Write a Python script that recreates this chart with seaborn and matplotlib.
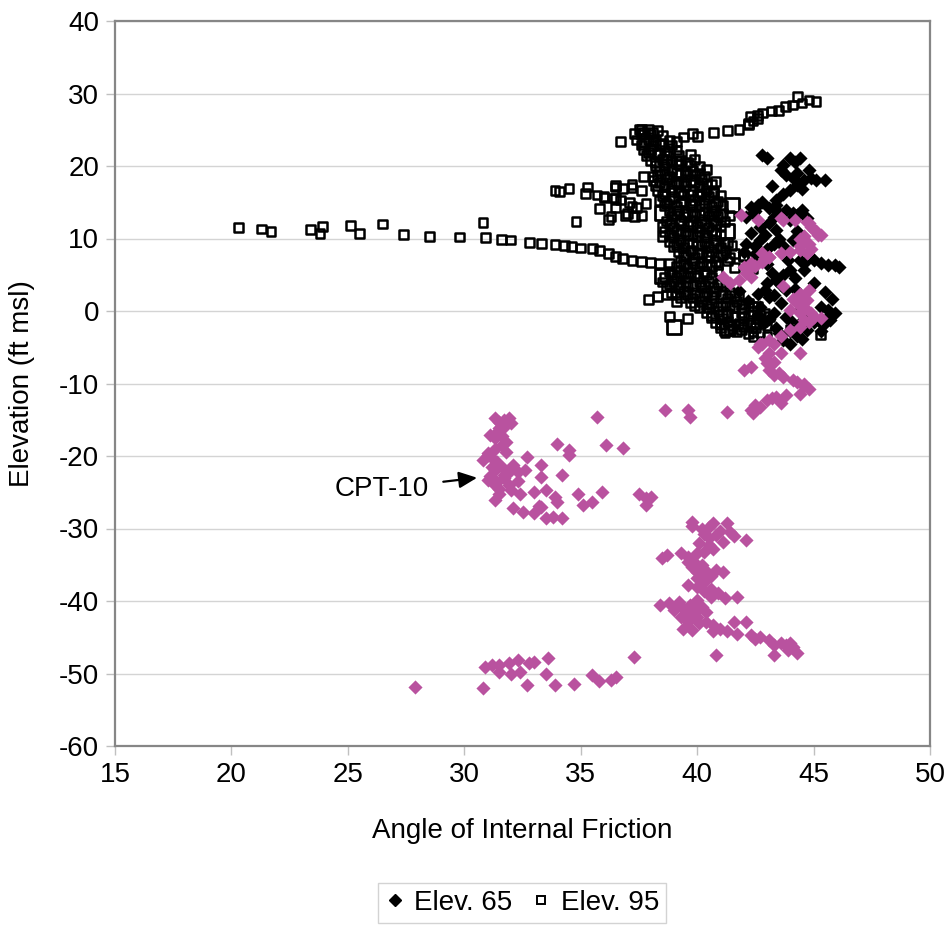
import matplotlib
matplotlib.use("Agg")
import matplotlib.pyplot as plt
from matplotlib.lines import Line2D
import seaborn as sns
import pandas as pd

# ---- Elev. 95 (open squares) ----
sq_x = [
    # western tail near elevation 10
    20.3, 21.3, 21.7, 23.4, 23.8, 23.9, 25.1, 25.5, 26.5, 27.4, 28.5, 29.8, 30.8, 30.9,
    31.6, 32.0, 32.8, 33.3, 33.9, 34.3, 34.6, 35.0, 35.5, 35.8, 36.2, 36.5, 36.8, 37.2,
    37.6, 38.0, 38.4, 38.8,
    # middle branch near elevation 16
    33.9, 34.1, 34.5, 35.3, 35.2, 35.7, 36.0, 36.4, 35.8, 36.2, 34.8, 36.5, 36.5,
    36.8, 37.2, 37.6, 36.7, 37.1, 37.4, 37.0, 37.6, 36.0, 36.5, 36.3, 36.9, 37.2,
    37.3, 37.7, 38.1, 36.5, 37.2, 37.8,
    # upper branch rising to elevation 29
    36.7, 37.3, 37.6, 39.1, 39.4, 39.8, 40.0, 40.7, 41.3, 41.8, 42.2, 42.3, 42.6, 42.8,
    43.2, 43.5, 43.8, 44.1, 44.3, 44.5, 44.8, 45.1, 42.4, 42.6, 42.2,
    # main column
    37.5, 37.9, 38.3,
    37.6, 38.0, 38.5,
    37.4, 37.9, 38.2, 38.8,
    37.6, 38.1, 38.4, 38.9,
    37.7, 38.0, 38.6, 39.1,
    37.8, 38.3, 38.7, 39.2, 39.7,
    38.0, 38.5, 38.9, 39.3, 39.9,
    38.2, 38.6, 39.2, 39.7, 40.1,
    38.4, 38.9, 39.5, 39.8, 40.4,
    38.3, 38.8, 39.3, 39.9, 40.3,
    38.1, 38.7, 39.1, 39.7, 40.2, 40.8,
    38.2, 38.6, 39.2, 39.5, 40.1, 40.6,
    38.3, 38.9, 39.3, 39.8, 40.4, 40.7,
    38.5, 39.0, 39.4, 40.0, 40.5, 41.0,
    38.4, 38.8, 39.4, 39.9, 40.3, 40.9,
    38.6, 39.1, 39.7, 40.1, 40.6, 41.1,
    38.8, 39.2, 39.8, 40.3, 40.8,
    38.9, 39.4, 39.9, 40.5, 40.9, 41.4,
    38.7, 39.3, 39.7, 40.2, 40.7, 41.2,
    38.5, 39.0, 39.6, 40.0, 40.5, 41.0,
    38.6, 39.1, 39.5, 40.1, 40.6,
    38.5, 39.0, 39.6, 40.0, 40.4, 41.0,
    38.8, 39.3, 39.8, 40.3, 40.8, 41.3,
    39.0, 39.4, 40.0, 40.5, 41.0, 41.5,
    39.2, 39.7, 40.2, 40.6, 41.2,
    39.4, 39.9, 40.4, 40.9, 41.4, 42.0,
    39.3, 39.8, 40.2, 40.8, 41.3, 42.4,
    39.1, 39.6, 40.1, 40.6, 41.6,
    38.8, 39.3, 39.7, 40.3, 40.9,
    38.6, 39.1, 39.6, 40.0, 40.6,
    38.5, 39.0, 39.5, 40.1, 40.5, 41.0,
    38.7, 39.2, 39.6, 40.2, 40.7, 41.2,
    38.9, 39.4, 39.9, 40.4, 40.8, 41.4,
    39.3, 39.8, 40.3, 40.7, 41.3, 41.8,
    39.7, 40.2, 40.6, 41.2, 41.7, 42.2,
    40.1, 40.5, 41.1, 41.6, 42.0, 42.6,
    40.4, 40.9, 41.3, 41.9, 42.4, 42.9,
    40.6, 41.1, 41.6, 42.0, 42.6, 43.1,
    40.8, 41.3, 41.8, 42.3, 42.8,
    41.0, 41.5, 42.0, 42.5,
    41.2, 41.7, 42.2, 42.7,
    # in-between readings of the column
    37.7, 38.1,
    37.7, 38.1, 38.5,
    37.9, 38.4, 38.8,
    38.2, 38.7, 39.1, 39.6,
    38.6, 39.1, 39.6, 40.1,
    38.4, 38.9, 39.4, 39.9, 40.4,
    38.6, 39.2, 39.7, 40.2, 40.7,
    38.7, 39.3, 39.8, 40.3, 40.8,
    39.1, 39.6, 40.1, 40.6, 41.1,
    38.8, 39.3, 39.8, 40.3, 40.8,
    38.8, 39.3, 39.8, 40.3, 40.8,
    39.1, 39.6, 40.2, 40.7, 41.2,
    39.5, 40.0, 40.5, 41.1, 41.6,
    39.4, 39.9, 40.4, 40.9,
    38.9, 39.4, 39.9, 40.4,
    38.8, 39.3, 39.8, 40.3, 40.9,
    39.1, 39.6, 40.1, 40.6, 41.1, 41.6,
    39.9, 40.4, 40.9, 41.4, 41.9, 42.4,
    40.6, 41.1, 41.6, 42.2, 42.7,
    41.0, 41.5, 42.0, 42.5, 43.0,
    41.4, 41.9, 42.4,
    # lower branches
    37.9, 38.3, 38.7, 38.8, 39.6, 39.1, 42.0, 42.7, 42.4, 44.0, 45.3, 43.0, 42.4, 44.6,
]
sq_y = [
    11.5, 11.3, 11.0, 11.2, 10.7, 11.7, 11.8, 10.7, 12.0, 10.5, 10.3, 10.2, 12.2, 10.1,
    9.9, 9.8, 9.5, 9.3, 9.2, 9.0, 8.9, 8.7, 8.6, 8.3, 7.9, 7.5, 7.2, 7.0,
    6.8, 6.7, 6.6, 6.6,
    16.6, 16.5, 16.9, 17.1, 16.2, 16.0, 15.7, 15.6, 14.1, 12.6, 12.3, 17.3, 15.5,
    16.9, 17.0, 16.6, 15.3, 15.0, 14.3, 13.5, 13.2, 15.8, 14.2, 13.0, 13.2, 14.4,
    13.0, 18.5, 18.5, 17.1, 17.4, 14.8,
    23.4, 24.5, 25.0, 23.4, 24.0, 24.5, 24.1, 24.6, 24.9, 25.0, 25.7, 26.8, 27.0, 27.3,
    27.6, 27.7, 28.2, 28.4, 29.6, 28.7, 29.1, 28.9, 26.2, 26.5, 25.9,
    25.0, 25.1, 24.9,
    24.3, 24.4, 24.2,
    23.6, 23.7, 23.5, 23.6,
    22.9, 22.8, 23.0, 22.9,
    22.2, 22.3, 22.1, 22.2,
    21.5, 21.6, 21.4, 21.5, 21.6,
    20.8, 20.9, 20.7, 20.8, 20.9,
    20.1, 20.0, 20.2, 20.1, 20.0,
    19.4, 19.5, 19.3, 19.4, 19.5,
    18.7, 18.6, 18.8, 18.7, 18.6,
    18.0, 18.1, 17.9, 18.0, 18.1, 17.9,
    17.3, 17.2, 17.4, 17.3, 17.2, 17.4,
    16.6, 16.7, 16.5, 16.6, 16.7, 16.5,
    15.9, 15.8, 16.0, 15.9, 15.8, 16.0,
    15.2, 15.3, 15.1, 15.2, 15.3, 15.1,
    14.5, 14.4, 14.6, 14.5, 14.4, 14.6,
    13.8, 13.9, 13.7, 13.8, 13.9,
    13.1, 13.0, 13.2, 13.1, 13.0, 13.2,
    12.4, 12.5, 12.3, 12.4, 12.5, 12.3,
    11.7, 11.6, 11.8, 11.7, 11.6, 11.8,
    11.0, 11.1, 10.9, 11.0, 11.1,
    10.3, 10.2, 10.4, 10.3, 10.2, 10.4,
    9.6, 9.7, 9.5, 9.6, 9.7, 9.5,
    8.9, 8.8, 9.0, 8.9, 8.8, 9.0,
    8.2, 8.3, 8.1, 8.2, 8.3,
    7.5, 7.4, 7.6, 7.5, 7.4, 7.6,
    6.8, 6.9, 6.7, 6.8, 6.9, 6.6,
    6.1, 6.0, 6.2, 6.1, 6.0,
    5.4, 5.5, 5.3, 5.4, 5.5,
    4.7, 4.6, 4.8, 4.7, 4.6,
    4.0, 4.1, 3.9, 4.0, 4.1, 3.9,
    3.3, 3.2, 3.4, 3.3, 3.2, 3.4,
    2.6, 2.7, 2.5, 2.6, 2.7, 2.5,
    1.9, 1.8, 2.0, 1.9, 1.8, 2.0,
    1.2, 1.3, 1.1, 1.2, 1.3, 1.1,
    0.5, 0.4, 0.6, 0.5, 0.4, 0.6,
    -0.2, -0.1, -0.3, -0.2, -0.1, -0.3,
    -0.9, -1.0, -0.8, -0.9, -1.0, -0.8,
    -1.6, -1.5, -1.7, -1.6, -1.5,
    -2.3, -2.4, -2.2, -2.3,
    -3.0, -2.9, -3.1, -3.0,
    24.7, 24.6,
    23.2, 23.3, 23.1,
    21.9, 21.8, 22.0,
    20.5, 20.4, 20.6, 20.5,
    19.0, 19.1, 18.9, 19.0,
    17.7, 17.6, 17.8, 17.7, 17.6,
    16.2, 16.3, 16.1, 16.2, 16.3,
    14.8, 14.9, 14.7, 14.8, 14.9,
    13.4, 13.5, 13.3, 13.4, 13.5,
    12.0, 12.1, 11.9, 12.0, 12.1,
    10.6, 10.7, 10.5, 10.6, 10.7,
    9.2, 9.3, 9.1, 9.2, 9.3,
    7.8, 7.9, 7.7, 7.8, 7.9,
    6.4, 6.5, 6.3, 6.4,
    5.0, 5.1, 4.9, 5.0,
    3.6, 3.7, 3.5, 3.6, 3.7,
    2.2, 2.3, 2.1, 2.2, 2.3, 2.1,
    0.8, 0.9, 0.7, 0.8, 0.9, 0.7,
    -0.6, -0.5, -0.7, -0.6, -0.5,
    -1.9, -2.0, -1.8, -1.9, -2.0,
    -2.7, -2.6, -2.8,
    1.6, 2.0, 2.2, -0.8, -1.0, 1.3, 7.5, 7.0, 5.9, -2.5, -3.3, -3.5, -3.5, -1.8,
]
# a few Elev. 95 readings plotted with a larger marker
big_x = [38.5, 41.5, 38.5, 41.3, 41.3, 39.0]
big_y = [13.5, 14.6, 4.8, -2.3, 11.0, -2.2]

# ---- Elev. 65 (filled black diamonds) ----
d65_x = [
    42.8, 43.0, 43.7, 44.0, 44.4, 44.2, 43.6, 43.8, 44.1, 44.3, 44.6, 44.9, 45.1, 45.5,
    44.3, 44.0, 43.7, 43.4, 42.8, 42.6, 42.3, 43.1, 43.4, 43.8, 44.1,
    42.1, 42.4, 42.7, 43.1, 43.4, 44.0, 44.3, 42.3, 42.7, 43.3, 43.7, 44.1, 42.1,
    43.9, 44.4, 45.0, 45.3, 45.6, 45.9, 46.1, 44.0, 44.6, 43.4, 43.8, 43.0, 42.6,
    43.1, 43.6, 42.7, 43.3, 43.8, 44.4, 45.3, 45.6, 45.9, 45.7, 45.4, 44.4, 44.7,
    44.3, 43.7, 44.0,
    42.0, 42.5, 43.0, 42.2, 41.8, 42.2, 42.9, 43.4, 44.9, 45.3, 44.0, 43.6, 44.2,
    45.0, 45.5, 45.8, 44.7, 43.3,
    42.5, 43.4, 44.5, 42.9, 43.5, 44.3, 42.5, 43.0, 44.6, 43.2, 43.7, 42.9, 43.3,
    44.2, 42.6, 43.1, 45.0, 43.5, 44.0, 44.5, 45.6, 44.8, 44.5, 43.2,
]
d65_y = [
    21.5, 21.1, 20.1, 21.1, 21.1, 20.6, 19.5, 18.8, 18.3, 19.0, 18.1, 18.3, 18.1, 18.1,
    17.4, 16.7, 16.2, 15.3, 15.1, 14.6, 14.4, 14.2, 13.9, 13.9, 13.5,
    13.0, 13.5, 11.6, 12.1, 11.2, 12.6, 13.2, 10.7, 9.8, 9.3, 8.9, 9.8, 9.3,
    7.0, 7.0, 7.0, 6.6, 6.3, 6.3, 6.1, 5.7, 5.7, 4.3, 2.9, 3.8, 2.4,
    2.0, 1.1, 0.6, -0.3, -0.8, 0.1, 0.6, 0.1, -0.3, -1.2, -1.9, -1.7, -2.6,
    -3.5, -4.0, -4.5,
    8.2, 7.8, 6.5, 5.8, 2.8, 1.4, -1.5, -2.3, -0.4, -2.7, -1.3, 3.6, 4.6,
    3.9, 2.6, 1.6, 12.8, 12.9,
    13.8, 14.6, 14.0, 10.5, 10.0, 11.0, 9.0, 8.5, 6.6, 5.2, 5.0, 2.9, 2.2,
    3.0, -0.6, -1.1, -1.5, -3.0, -2.8, -3.8, -0.8, 19.5, 16.8, 17.2,
]

# ---- CPT-10 (magenta diamonds) ----
cpt_x = [
    # upper trace
    41.9, 42.6, 43.6, 44.2, 44.8, 45.0, 45.2, 44.6, 44.8, 44.4, 44.7, 42.8, 43.1, 43.6,
    44.0, 43.7, 44.7, 45.3, 44.4, 44.4, 43.1, 42.8, 42.3, 42.0, 42.1, 42.3, 41.8, 41.4,
    41.1, 43.7, 44.4, 44.8, 44.7, 44.3, 44.0, 44.4, 45.0, 45.3, 44.8, 44.4, 44.0, 43.6,
    43.1, 42.7, 42.6,
    42.8, 43.1, 43.6, 44.4, 43.0, 43.1, 42.0, 42.3, 43.3, 43.7, 44.1, 44.6, 44.8, 44.4,
    43.8, 43.4, 43.0, 43.6, 42.7, 42.3, 42.4, 41.3,
    44.9, 45.1, 44.5, 44.9, 42.9, 42.5, 42.2, 44.1, 44.6, 44.9, 44.6, 43.3, 42.9, 43.3,
    43.5, 44.3, 44.6, 43.2, 42.5,
    # middle cluster
    31.3, 31.9, 31.7, 32.0, 31.4, 31.1, 31.6, 31.8, 31.8, 31.0, 31.2, 30.8, 31.4, 31.3,
    31.7, 31.0, 31.3, 31.5, 31.9, 32.1, 32.3, 32.6, 32.7, 33.3, 33.3, 34.0, 34.5, 34.5,
    34.2, 33.5, 33.9, 34.0, 34.9, 35.1, 35.5, 35.9, 36.1, 36.8, 35.7, 38.6, 39.6, 39.7,
    37.5, 37.8, 38.0, 37.8, 31.3, 32.1, 32.5, 33.0, 33.3, 33.5, 33.8, 34.2,
    31.5, 31.7, 31.5, 31.3, 31.6, 31.3, 31.0, 31.4, 31.2, 31.7, 31.1, 31.4, 31.7, 31.9,
    32.3, 32.0, 32.4, 33.0, 33.2, 31.5,
    # lower cluster
    39.8, 40.2, 40.7, 41.3, 40.3, 40.8, 41.1, 41.6, 42.1, 40.7, 40.3, 40.0, 39.3, 38.7,
    38.5, 39.6, 39.8, 40.0, 40.8, 41.1, 40.3, 40.2, 39.6, 40.6, 40.9, 40.6, 41.2, 41.7,
    40.0, 38.4, 38.8, 39.2, 39.0, 39.4, 39.7, 40.4, 39.3, 40.0, 40.4, 40.7, 39.4, 39.8,
    40.7, 41.3, 41.6, 42.1, 41.7, 42.3, 42.7, 43.1, 43.6, 43.8, 44.1, 44.3, 43.9, 43.3,
    40.8, 37.3,
    39.8, 40.5, 41.0, 40.5, 41.4, 40.1, 40.5, 39.6, 39.9, 40.2, 40.4, 40.0, 40.4, 40.6,
    40.0, 40.3, 39.7, 40.2, 40.0, 39.6, 40.1, 41.0, 42.5, 43.3, 44.0,
    # bottom cluster
    30.9, 31.2, 31.5, 31.5, 31.9, 32.3, 32.8, 33.0, 33.6, 32.0, 32.4, 33.5, 32.7, 33.9,
    34.7, 35.5, 35.8, 36.3, 36.5, 30.8, 27.9,
]
cpt_y = [
    13.2, 12.6, 12.8, 12.6, 12.1, 11.2, 10.5, 10.3, 9.3, 8.9, 8.0, 8.0, 7.5, 8.0,
    8.2, 12.6, 12.3, 10.5, 10.0, 8.4, 7.5, 6.8, 6.6, 6.1, 5.2, 4.7, 4.3, 3.8,
    4.7, 3.4, 2.4, 2.9, 1.5, 1.1, 0.1, -0.3, -0.8, -1.0, -1.5, -2.2, -2.6, -3.5,
    -4.0, -4.5, -4.9,
    -4.5, -5.8, -5.8, -5.8, -7.2, -8.1, -8.1, -7.7, -8.8, -9.1, -9.5, -10.0, -10.7, -11.4,
    -11.6, -11.8, -12.3, -12.7, -13.2, -13.7, -14.1, -13.9,
    11.6, 11.0, 9.8, 8.5, 7.3, 6.2, 5.6, 1.7, 0.6, -0.3, -1.2, -4.6, -6.5, -7.0,
    -8.5, -9.8, -10.3, -12.0, -13.0,
    -14.8, -14.8, -16.0, -15.5, -16.7, -17.1, -17.3, -18.0, -19.4, -19.6, -20.3, -20.5, -21.0, -21.9,
    -22.6, -23.3, -24.0, -24.5, -24.0, -21.2, -22.2, -21.9, -20.1, -21.2, -22.9, -18.3, -19.2, -19.9,
    -22.6, -24.7, -25.6, -26.3, -25.2, -26.8, -26.3, -24.9, -18.5, -18.9, -14.6, -13.7, -13.7, -14.6,
    -25.2, -25.8, -25.6, -26.8, -26.1, -27.2, -27.7, -27.9, -27.0, -28.6, -28.4, -28.6,
    -15.3, -15.0, -16.2, -17.5, -18.5, -19.0, -19.9, -20.8, -21.5, -21.8, -22.7, -23.6, -23.1, -22.2,
    -23.4, -24.7, -25.3, -25.0, -26.9, -25.2,
    -29.1, -30.0, -29.3, -29.3, -30.7, -30.9, -31.8, -31.1, -31.6, -32.8, -33.2, -33.4, -33.4, -33.7,
    -34.1, -34.6, -35.3, -36.0, -35.7, -36.0, -36.6, -37.6, -37.8, -38.3, -38.9, -39.4, -39.6, -39.4,
    -39.9, -40.6, -40.3, -40.1, -41.2, -41.0, -41.7, -41.5, -42.2, -42.2, -42.9, -43.3, -43.8, -44.0,
    -44.2, -44.2, -42.9, -42.9, -44.5, -44.7, -44.9, -45.4, -45.8, -46.1, -46.3, -47.2, -46.8, -47.5,
    -47.5, -47.7,
    -29.7, -29.8, -30.3, -31.3, -30.5, -32.0, -32.3, -33.9, -34.7, -35.0, -35.8, -36.8, -37.1, -36.5,
    -38.0, -38.6, -40.6, -40.8, -41.2, -42.8, -43.1, -43.8, -45.2, -46.0, -45.8,
    -49.1, -48.8, -48.8, -49.8, -48.6, -48.1, -48.6, -48.4, -47.9, -50.0, -49.8, -50.0, -51.6, -51.6,
    -51.4, -50.2, -51.1, -50.9, -50.5, -52.0, -51.9,
]

x_ticks = [15, 20, 25, 30, 35, 40, 45, 50]
y_ticks = [-60, -50, -40, -30, -20, -10, 0, 10, 20, 30, 40]

cpt_color = "#B9529F"
frame_gray = "#868686"
grid_gray = "#D4D4D4"
font_size = 20

sns.set_style("white")
plt.rcParams["font.family"] = ["Liberation Sans", "DejaVu Sans"]
plt.rcParams["text.color"] = "black"
plt.rcParams["axes.labelcolor"] = "black"

fig = plt.figure(figsize=(9.5, 9.27), dpi=100)
ax = fig.add_axes([115 / 950, 1 - 746 / 927, 815 / 950, 725 / 927])

sq = pd.DataFrame({"angle": sq_x, "elev": sq_y})
big = pd.DataFrame({"angle": big_x, "elev": big_y})
d65 = pd.DataFrame({"angle": d65_x, "elev": d65_y})
cpt = pd.DataFrame({"angle": cpt_x, "elev": cpt_y})

sns.scatterplot(data=sq, x="angle", y="elev", ax=ax, marker="s", s=40,
                color="black", facecolor="none", edgecolor="black", linewidth=1.8, zorder=3)
sns.scatterplot(data=big, x="angle", y="elev", ax=ax, marker="s", s=100,
                color="black", facecolor="none", edgecolor="black", linewidth=2.0, zorder=3)
sns.scatterplot(data=d65, x="angle", y="elev", ax=ax, marker="D", s=52,
                color="black", edgecolor="black", linewidth=0, zorder=4)
sns.scatterplot(data=cpt, x="angle", y="elev", ax=ax, marker="D", s=52,
                color=cpt_color, edgecolor=cpt_color, linewidth=0, zorder=5)

ax.set_xlim(15, 50)
ax.set_ylim(-60, 40)
ax.set_xticks(x_ticks)
ax.set_yticks(y_ticks)
ax.set_xticklabels([str(v) for v in x_ticks])
ax.set_yticklabels([str(v) for v in y_ticks])
ax.yaxis.grid(True, color=grid_gray, linewidth=1.0, zorder=0)
ax.xaxis.grid(False)
ax.set_axisbelow(True)
for sp in ax.spines.values():
    sp.set_visible(True)
    sp.set_color(frame_gray)
    sp.set_linewidth(1.6)
ax.tick_params(axis="both", which="major", direction="out", length=6.5, width=1.0,
               color="#C0C0C0", labelsize=font_size, labelcolor="black", pad=5,
               bottom=True, left=True)

ax.set_xlabel("Angle of Internal Friction", fontsize=font_size)
ax.set_ylabel("Elevation (ft msl)", fontsize=font_size, va="center")
ax.xaxis.set_label_coords(0.5, (746 - 818) / 725)
ax.yaxis.set_label_coords((22 - 115) / 815, 0.5)

ax.annotate("CPT-10", xy=(30.55, -23.0), xytext=(26.46, -24.55),
            ha="center", va="center", fontsize=font_size,
            arrowprops=dict(arrowstyle="-|>,head_length=0.55,head_width=0.25",
                            color="black", lw=1.6, shrinkA=8, shrinkB=0))

handles = [
    Line2D([], [], linestyle="none", marker="D", markersize=6.5, color="black"),
    Line2D([], [], linestyle="none", marker="s", markersize=6, markerfacecolor="white",
           markeredgecolor="black", markeredgewidth=1.4),
]
fig.legend(handles, ["Elev. 65", "Elev. 95"], loc="center",
           bbox_to_anchor=(522 / 950, 1 - 903 / 927), ncol=2, frameon=True,
           fancybox=False, edgecolor="#C8C8C8", fontsize=font_size, handlelength=0.7,
           handletextpad=0.35, columnspacing=0.7, borderpad=0.25)

fig.savefig("out.png", dpi=100)
